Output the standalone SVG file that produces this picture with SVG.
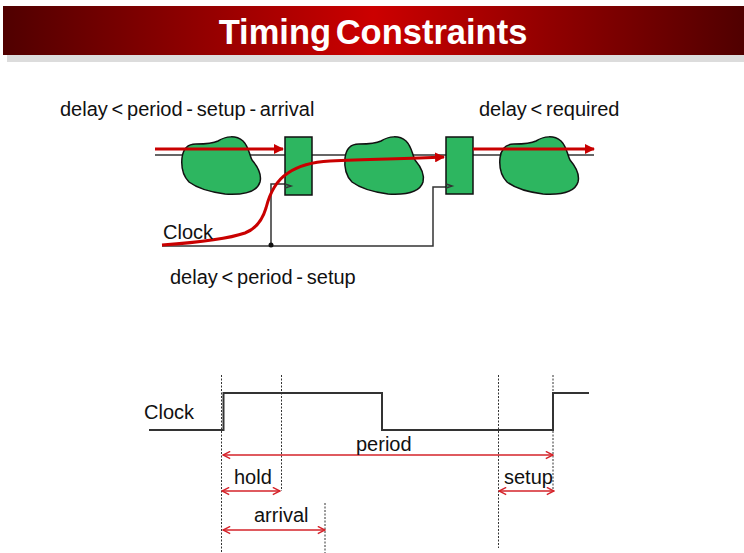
<svg xmlns="http://www.w3.org/2000/svg" width="744" height="553" viewBox="0 0 744 553">
<style>
text{font-family:"Liberation Sans",Arial,sans-serif;font-size:20px;fill:#111;word-spacing:-1.8px}
.blob{fill:#2DB660;stroke:#111;stroke-width:1.5}
.reg{fill:#2DB660;stroke:#111;stroke-width:1.5}
.wire{fill:none;stroke:#333;stroke-width:1.5}
.red{fill:none;stroke:#C90000;stroke-width:3}
.dash{fill:none;stroke:#333;stroke-width:1;stroke-dasharray:2 1.5}
.dim{fill:none;stroke:#D5232A;stroke-width:1.5;marker-start:url(#o);marker-end:url(#o)}
</style>
<defs>
<linearGradient id="g"><stop offset="0" stop-color="#500000"/><stop offset=".5" stop-color="#CC0000"/><stop offset="1" stop-color="#500000"/></linearGradient>
<marker id="o" viewBox="0 0 10 10" refX="9" refY="5" markerWidth="9" markerHeight="9" orient="auto-start-reverse" markerUnits="userSpaceOnUse"><path d="M1 1L9 5L1 9" fill="none" stroke="#D5232A" stroke-width="1.6"/></marker>
<marker id="r" viewBox="0 0 10 10" refX="9" refY="5" markerWidth="10" markerHeight="10" orient="auto" markerUnits="userSpaceOnUse"><path d="M0 0L10 5L0 10Z" fill="#C90000"/></marker>
<path id="b" d="M182 158C183 149 187 144 196 144C205 144 212 144 218 141C226 136 236 135 243 141C249 147 249 154 252 160C258 167 262 174 260 182C257 192 242 195 225 194C210 192 197 188 189 182C184 177 181 168 182 158Z"/>
</defs>
<g id="header">
<rect x="7" y="21" width="737" height="41" fill="#DCDCDC"/>
<rect x="3" y="6" width="741" height="49" fill="url(#g)"/>
<text x="373" y="44" text-anchor="middle" style="font-size:34.5px;font-weight:bold;fill:#fff;word-spacing:-5px">Timing Constraints</text>
</g>
<g id="connectors">
<path class="wire" d="M155 155H594"/>
<path class="wire" d="M162 246H433V187H446"/>
<path class="wire" d="M271 246V184H285"/>
</g>
<g id="blob1"><use href="#b" class="blob"/></g>
<g id="blob2"><use href="#b" class="blob" x="163"/></g>
<g id="blob3"><use href="#b" class="blob" x="318"/></g>
<g id="reg1"><rect class="reg" x="285" y="137" width="27" height="58"/><path class="wire" d="M285 184L291 186L285 188" stroke-width="1"/></g>
<g id="reg2"><rect class="reg" x="446" y="137" width="27" height="57"/><path class="wire" d="M446 184L452 186L446 188" stroke-width="1"/></g>
<g id="clock-dot"><circle cx="271" cy="245" r="2.5" fill="#111"/></g>
<g id="paths">
<path class="red" d="M155 149H283" marker-end="url(#r)"/>
<path class="red" d="M162 245C190 243 225 240 245 233C258 228 263 218 266 208C270 192 277 180 288 173C298 166 312 162 330 161C370 159 400 159 444 157" marker-end="url(#r)"/>
<path class="red" d="M473 149H594" marker-end="url(#r)"/>
</g>
<g id="labels">
<text x="60" y="116">delay &lt; period - setup - arrival</text>
<text x="479" y="116">delay &lt; required</text>
<text x="163" y="239">Clock</text>
<text x="170" y="284">delay &lt; period - setup</text>
</g>
<g id="timing">
<path class="wire" d="M149 430H223.5V393H382V430H553V393H589" style="stroke-width:2"/>
<path class="dash" d="M221.5 375V553M281.5 375V491M325 503V553M498.5 375V548M553 375V491"/>
<path class="dim" d="M223 455H553"/>
<path class="dim" d="M222 491H280"/>
<path class="dim" d="M223 530H325"/>
<path class="dim" d="M499 491H554"/>
<text x="144" y="419">Clock</text>
<text x="356" y="451">period</text>
<text x="234" y="484">hold</text>
<text x="254" y="522">arrival</text>
<text x="504" y="484">setup</text>
</g>
</svg>
